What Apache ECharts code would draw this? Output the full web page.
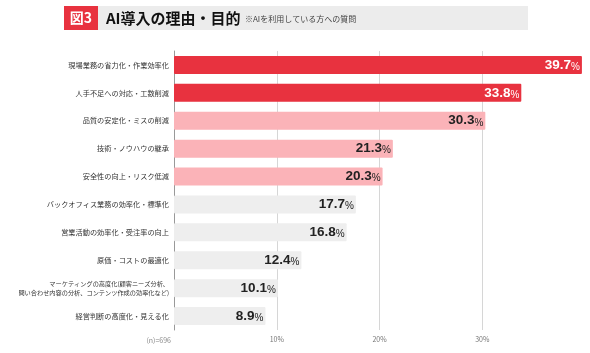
<!DOCTYPE html>
<html lang="ja">
<head>
<meta charset="UTF-8">
<title>AI導入の理由・目的</title>
<style>
  *{margin:0;padding:0;}
  html,body{width:590px;height:353px;background:#fff;}
  #chart{width:590px;height:353px;}
</style>
<script src="https://cdn.jsdelivr.net/npm/echarts@6/dist/echarts.min.js"></script>
</head>
<body>
<div id="chart"></div>
<script>
// データ（上から順）
const categories = [
  '現場業務の省力化・作業効率化',
  '人手不足への対応・工数削減',
  '品質の安定化・ミスの削減',
  '技術・ノウハウの継承',
  '安全性の向上・リスク低減',
  'バックオフィス業務の効率化・標準化',
  '営業活動の効率化・受注率の向上',
  '原価・コストの最適化',
  'マーケティングの高度化(顧客ニーズ分析、\n問い合わせ内容の分析、コンテンツ作成の効率化など)',
  '経営判断の高度化・見える化'
];
const values = [39.7, 33.8, 30.3, 21.3, 20.3, 17.7, 16.8, 12.4, 10.1, 8.9];
const tickLabels = ['', '10%', '20%', '30%', ''];
const sampleNote = '(n)=696';

const FONT = '"Noto Sans CJK JP", "Noto Sans", sans-serif';
const NUMFONT = '"Liberation Sans", Arial, sans-serif';
const RED = '#e8323f', PINK = '#fbb3b8', GREY = '#eeeeee';

function barColor(i) {
  if (i < 2) return RED;
  if (i < 5) return PINK;
  return GREY;
}

const chart = echarts.init(document.getElementById('chart'));

chart.setOption({
  animation: false,
  textStyle: {fontFamily: FONT},
  grid: {left: 174, right: 5, top: 51, bottom: 23},
  graphic: [
    {type: 'rect', shape: {x: 97, y: 6, width: 431, height: 24}, style: {fill: '#ececec'}},
    {type: 'rect', shape: {x: 64, y: 6, width: 34, height: 24}, style: {fill: RED}},
    {type: 'text', x: 81, y: 18, style: {text: '図3', fill: '#fff', font: 'bold 14px ' + FONT, align: 'center', verticalAlign: 'middle'}},
    {type: 'text', x: 106, y: 18, style: {text: 'AI導入の理由・目的', fill: '#111', font: 'bold 15px ' + FONT, verticalAlign: 'middle'}},
    {type: 'text', x: 245, y: 19, style: {text: '※AIを利用している方への質問', fill: '#444', font: '8px ' + FONT, verticalAlign: 'middle'}},
    {type: 'text', x: 171, y: 340, style: {text: sampleNote, fill: '#888', font: '7px ' + FONT, align: 'right', verticalAlign: 'middle'}}
  ],
  xAxis: {
    type: 'value',
    min: 0, max: 40, interval: 10,
    axisLine: {show: false},
    axisTick: {show: false},
    splitLine: {show: true, showMinLine: false, showMaxLine: false, lineStyle: {color: '#d6d6d6', width: 1}},
    axisLabel: {
      color: '#777', fontSize: 7, margin: 6,
      formatter: (v) => tickLabels[Math.round(v / 10)] || ''
    }
  },
  yAxis: {
    type: 'category',
    inverse: true,
    data: categories.map((c, i) => i === 8
      ? {value: c, textStyle: {fontSize: 6.2, lineHeight: 9}}
      : c),
    axisLine: {show: true, lineStyle: {color: '#999', width: 1}},
    axisTick: {show: false},
    axisLabel: {color: '#333', fontSize: 7.2, margin: 5}
  },
  series: [{
    type: 'bar',
    barWidth: 18,
    data: values.map((v, i) => ({
      value: v,
      itemStyle: {color: barColor(i), borderRadius: 1},
      label: {color: i < 2 ? '#fff' : '#222'}
    })),
    label: {
      show: true,
      position: 'insideRight',
      distance: 2,
      formatter: (p) => '{v|' + p.value.toFixed(1) + '}{p|%}',
      rich: {
        v: {fontSize: 13.5, fontWeight: 'bold', fontFamily: NUMFONT},
        p: {fontSize: 10, fontFamily: NUMFONT, verticalAlign: 'bottom'}
      }
    }
  }]
});
</script>
</body>
</html>
